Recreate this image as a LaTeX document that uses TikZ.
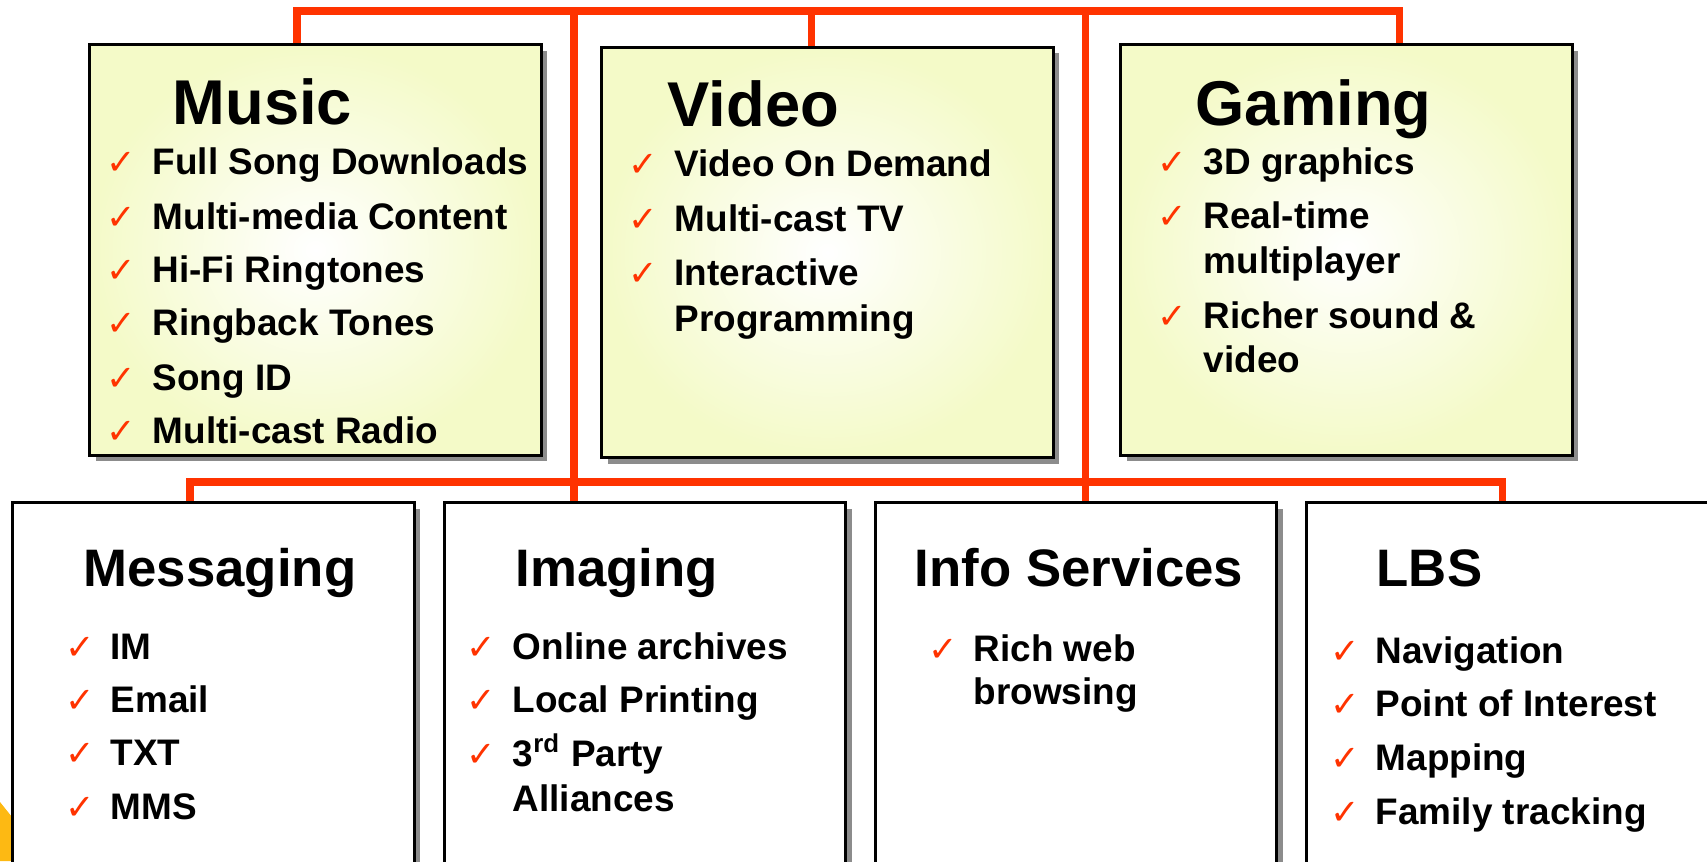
\documentclass[tikz,border=0pt]{standalone}
\usepackage{fontspec}
\setmainfont{Liberation Sans}
\newfontfamily\symfont{DejaVu Sans}
\usetikzlibrary{shadows}
\definecolor{busred}{RGB}{255,51,0}
\definecolor{paleyellow}{RGB}{244,250,200}
\definecolor{blobyellow}{RGB}{253,185,19}
\tikzset{
  bus/.style={draw=busred, line width=2pt},
  boxshadow/.style={drop shadow={shadow xshift=1.7pt, shadow yshift=-1.7pt, opacity=1, fill=black!45}},
  topbox/.style={draw, line width=0.9pt, inner sep=0pt, minimum width=4.51cm, minimum height=4.10cm,
    shading=radial, inner color=white, outer color=paleyellow, boxshadow},
  lowbox/.style={draw, line width=0.9pt, inner sep=0pt, fill=white, minimum width=4.01cm, minimum height=3.77cm, boxshadow},
  boxtitle/.style={anchor=base west, inner sep=0pt, font=\fontsize{18}{20}\selectfont\bfseries},
  lowtitle/.style={boxtitle, font=\fontsize{15}{18}\selectfont\bfseries},
  itemtext/.style={anchor=base west, inner sep=0pt, font=\fontsize{10.5}{13}\selectfont\bfseries},
  checkmark/.style={anchor=base west, inner sep=0pt, text=busred, font=\fontsize{10}{12}\selectfont\symfont}
}
\begin{document}
\begin{tikzpicture}[x=0.01cm, y=-0.01cm]
  \useasboundingbox (0,0) rectangle (1707,861);
  \fill[blobyellow] (0,802) -- (16,822) -- (16,861) -- (0,861) -- cycle;

  % top row
  \node[topbox] (music) at (315.5,250) {};
  \node[topbox] (video) at (827.5,252.5) {};
  \node[topbox] (gaming) at (1346.5,250) {};

  % bottom row
  \node[lowbox] (messaging) at (213.5,691.5) {};
  \node[lowbox] (imaging) at (645,691.5) {};
  \node[lowbox] (info) at (1076,691.5) {};
  \node[lowbox] (lbs) at (1507.5,691.5) {};

  % bus lines
  \coordinate (tl) at (297,11);
  \coordinate (vc) at (811,11);
  \coordinate (tr) at (1399,11);
  \coordinate (jl) at (574,11);
  \coordinate (jr) at (1085,11);
  \coordinate (bl) at (190,482);
  \coordinate (br) at (1502,482);
  \draw[bus] (music.north -| tl) -- (tl) -- (tr) -- (gaming.north -| tr);
  \draw[bus] (vc) -- (video.north -| vc);
  \draw[bus] (jl) -- (imaging.north -| jl);
  \draw[bus] (jr) -- (info.north -| jr);
  \draw[bus] (messaging.north -| bl) -- (bl) -- (br) -- (lbs.north -| br);

  % Music
  \node[boxtitle] (musicT) at (172,125) {Music};
  \node[checkmark] (music1c) at (106,175) {✓};
  \node[itemtext] (music1) at (152,175) {Full Song Downloads};
  \node[checkmark] (music2c) at (106,230) {✓};
  \node[itemtext] (music2) at (152,230) {Multi-media Content};
  \node[checkmark] (music3c) at (106,283) {✓};
  \node[itemtext] (music3) at (152,283) {Hi-Fi Ringtones};
  \node[checkmark] (music4c) at (106,336) {✓};
  \node[itemtext] (music4) at (152,336) {Ringback Tones};
  \node[checkmark] (music5c) at (106,390) {✓};
  \node[itemtext] (music5) at (152,390) {Song ID};
  \node[checkmark] (music6c) at (106,443) {✓};
  \node[itemtext] (music6) at (152,443) {Multi-cast Radio};

  % Video
  \node[boxtitle] (videoT) at (667,127) {Video};
  \node[checkmark] (video1c) at (628,177) {✓};
  \node[itemtext] (video1) at (674,177) {Video On Demand};
  \node[checkmark] (video2c) at (628,232) {✓};
  \node[itemtext] (video2) at (674,232) {Multi-cast TV};
  \node[checkmark] (video3c) at (628,285) {✓};
  \node[itemtext] (video3) at (674,285) {Interactive};
  \node[itemtext] (video3b) at (674,331) {Programming};

  % Gaming
  \node[boxtitle] (gamingT) at (1195,126) {Gaming};
  \node[checkmark] (gaming1c) at (1157,175) {✓};
  \node[itemtext] (gaming1) at (1203,175) {3D graphics};
  \node[checkmark] (gaming2c) at (1157,229) {✓};
  \node[itemtext] (gaming2) at (1203,229) {Real-time};
  \node[itemtext] (gaming2b) at (1203,274) {multiplayer};
  \node[checkmark] (gaming3c) at (1157,328) {✓};
  \node[itemtext] (gaming3) at (1203,328) {Richer sound \&};
  \node[itemtext] (gaming3b) at (1203,372) {video};

  % Messaging
  \node[lowtitle] (messagingT) at (83,586) {Messaging};
  \node[checkmark] (messaging1c) at (65,659) {✓};
  \node[itemtext] (messaging1) at (110,659) {IM};
  \node[checkmark] (messaging2c) at (65,712) {✓};
  \node[itemtext] (messaging2) at (110,712) {Email};
  \node[checkmark] (messaging3c) at (65,765) {✓};
  \node[itemtext] (messaging3) at (110,765) {TXT};
  \node[checkmark] (messaging4c) at (65,819) {✓};
  \node[itemtext] (messaging4) at (110,819) {MMS};

  % Imaging
  \node[lowtitle] (imagingT) at (515,586) {Imaging};
  \node[checkmark] (imaging1c) at (466,659) {✓};
  \node[itemtext] (imaging1) at (512,659) {Online archives};
  \node[checkmark] (imaging2c) at (466,712) {✓};
  \node[itemtext] (imaging2) at (512,712) {Local Printing};
  \node[checkmark] (imaging3c) at (466,766) {✓};
  \node[itemtext] (imaging3) at (512,766) {3\textsuperscript{rd} Party};
  \node[itemtext] (imaging3b) at (512,811) {Alliances};

  % Info Services
  \node[lowtitle] (infoT) at (914,586) {Info Services};
  \node[checkmark] (info1c) at (928,661) {✓};
  \node[itemtext] (info1) at (973,661) {Rich web};
  \node[itemtext] (info1b) at (973,704) {browsing};

  % LBS
  \node[lowtitle] (lbsT) at (1376,586) {LBS};
  \node[checkmark] (lbs1c) at (1330,663) {✓};
  \node[itemtext] (lbs1) at (1375,663) {Navigation};
  \node[checkmark] (lbs2c) at (1330,716) {✓};
  \node[itemtext] (lbs2) at (1375,716) {Point of Interest};
  \node[checkmark] (lbs3c) at (1330,770) {✓};
  \node[itemtext] (lbs3) at (1375,770) {Mapping};
  \node[checkmark] (lbs4c) at (1330,824) {✓};
  \node[itemtext] (lbs4) at (1375,824) {Family tracking};
\end{tikzpicture}
\end{document}
